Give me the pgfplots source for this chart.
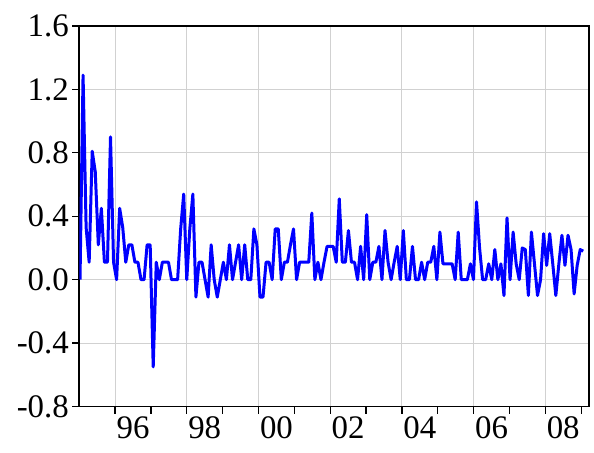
\documentclass[border=0pt]{standalone}
\usepackage{fontspec}
\setmainfont{Liberation Serif}
\usepackage{pgfplots}
\pgfplotsset{compat=1.18}
\usepackage{pgfplotstable}

% monthly changes, one observation per row, starting January 1995
\pgfplotstableread{
v
0
1.29
0.33
0.11
0.81
0.68
0.22
0.45
0.11
0.11
0.90
0.11
0
0.45
0.33
0.11
0.22
0.22
0.11
0.11
0
0
0.22
0.22
-0.55
0.11
0
0.11
0.11
0.11
0
0
0
0.32
0.54
0
0.32
0.54
-0.11
0.11
0.11
0
-0.11
0.22
0
-0.11
0
0.11
0
0.22
0
0.11
0.22
0
0.22
0
0
0.32
0.22
-0.11
-0.11
0.11
0.11
0
0.32
0.32
0
0.11
0.11
0.22
0.32
0
0.11
0.11
0.11
0.11
0.42
0
0.11
0
0.11
0.21
0.21
0.21
0.11
0.51
0.11
0.11
0.31
0.11
0.11
0
0.21
0
0.41
0
0.11
0.11
0.21
0
0.31
0.11
0
0.11
0.21
0
0.31
0
0
0.21
0
0
0.11
0
0.11
0.11
0.21
0
0.30
0.10
0.10
0.10
0.10
0
0.30
0
0
0
0.10
0
0.49
0.20
0
0
0.10
0
0.19
0
0.10
-0.10
0.39
0
0.30
0.10
0
0.20
0.19
-0.10
0.30
0.10
-0.10
0
0.29
0.09
0.29
0.10
-0.10
0.10
0.28
0.09
0.28
0.19
-0.09
0.09
0.19
0.18
}\series

\begin{document}
\begin{tikzpicture}
\begin{axis}[
  name=main,
  scale only axis,
  width=509.7bp, height=380.5bp,
  xmin=1995, xmax=2009.218,
  ymin=-0.8, ymax=1.6,
  xtick={1996,1998,2000,2002,2004,2006,2008},
  minor xtick={1997,1999,2001,2003,2005,2007,2009},
  xticklabels={96,98,00,02,04,06,08},
  x tick label style={xshift=17.9bp},
  ytick={-0.8,-0.4,0,0.4,0.8,1.2,1.6},
  yticklabel style={/pgf/number format/.cd, fixed, fixed zerofill, precision=1},
  /pgf/number format/assume math mode=true,
  tick label style={font=\fontsize{33}{40}\selectfont},
  tick pos=left,
  tick align=outside,
  major tick length=7bp,
  minor tick length=7bp,
  every tick/.style={black, line width=1.3bp},
  xmajorgrids, ymajorgrids,
  major grid style={line width=1bp, color=black!18},
  axis line style={black, line width=1.6bp},
]
\addplot[color=blue, line width=3bp, line join=round, mark=none]
  table[x expr=1995.02+\coordindex*0.08508, y=v] {\series};
\end{axis}
\pgfresetboundingbox
\path ([shift={(-79.3bp,-46.5bp)}]main.south west) rectangle ([shift={(5bp,26bp)}]main.north east);
\end{tikzpicture}
\end{document}
